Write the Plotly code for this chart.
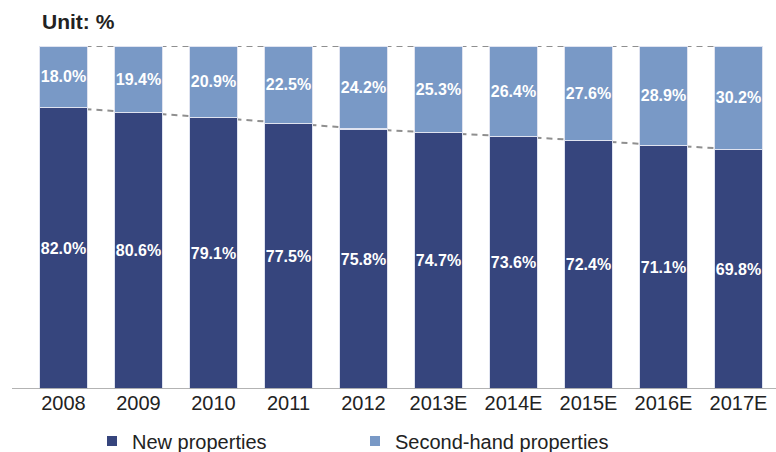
import plotly.graph_objects as go

# Share of residential property transactions, China
years = ["2008", "2009", "2010", "2011", "2012", "2013E", "2014E", "2015E", "2016E", "2017E"]
new_props = [82.0, 80.6, 79.1, 77.5, 75.8, 74.7, 73.6, 72.4, 71.1, 69.8]
second_hand = [18.0, 19.4, 20.9, 22.5, 24.2, 25.3, 26.4, 27.6, 28.9, 30.2]
totals = [n + s for n, s in zip(new_props, second_hand)]

DARK = "#36457d"
LIGHT = "#7999c6"
EDGE = "#dfe3f0"
DASH = "#8f8f8f"
FONT = "Liberation Sans"

fig = go.Figure()

for name, vals, col in [("New properties", new_props, DARK),
                        ("Second-hand properties", second_hand, LIGHT)]:
    fig.add_trace(go.Bar(
        x=years, y=vals, name=name,
        marker=dict(color=col, line=dict(color=EDGE, width=1.2)),
        text=[f"{v:.1f}%" for v in vals], textposition="inside",
        insidetextanchor="middle", textangle=0,
        textfont=dict(color="white", size=16, family=FONT, weight="bold"),
        showlegend=False,
    ))

# legend entries with small square swatches
for name, col in [("New properties", DARK), ("Second-hand properties", LIGHT)]:
    fig.add_trace(go.Scatter(
        x=[years[0]], y=[None], mode="markers", name=name,
        marker=dict(symbol="square", size=10, color=col),
    ))

# dashed connector lines behind the bars (category index positions)
shapes = []
for series in (totals, new_props):
    for i in range(len(years) - 1):
        shapes.append(dict(
            type="line", xref="x", yref="y", layer="below",
            x0=i, y0=series[i], x1=i + 1, y1=series[i + 1],
            line=dict(color=DASH, width=2, dash="6px,5px"),
        ))
# baseline running slightly past the first category
shapes.append(dict(
    type="line", xref="paper", yref="y", x0=-14 / 750, x1=1, y0=0, y1=0,
    line=dict(color="#9a9a9a", width=1.5),
))

fig.update_layout(
    width=776, height=452,
    margin=dict(l=26, r=0, t=46, b=63),
    barmode="stack", bargap=0.36,
    uniformtext=dict(minsize=15, mode="show"),
    plot_bgcolor="white", paper_bgcolor="white",
    shapes=shapes,
    title=dict(
        text="<b>Unit: %</b>", xref="container", yref="container",
        x=42 / 776, xanchor="left", y=1 - 22 / 452, yanchor="middle",
        font=dict(size=21, family=FONT, color="#222222"),
    ),
    xaxis=dict(
        type="category", categoryorder="array", categoryarray=years,
        range=[-0.5, len(years) - 0.5],
        showgrid=False, showline=False, zeroline=False, ticks="",
        tickfont=dict(size=20, family=FONT, color="#222222"),
    ),
    yaxis=dict(
        range=[0, 100], showgrid=False, showline=False, zeroline=False,
        showticklabels=False, ticks="",
    ),
    legend=dict(
        orientation="h", xref="container", yref="container", traceorder="normal",
        x=92 / 776, xanchor="left", y=1 - 441 / 452, yanchor="middle",
        font=dict(size=20, family=FONT, color="#222222"),
        entrywidth=218, entrywidthmode="pixels",
        itemwidth=30, bgcolor="rgba(0,0,0,0)",
    ),
    font=dict(family=FONT),
)

fig.write_html("out.html")
